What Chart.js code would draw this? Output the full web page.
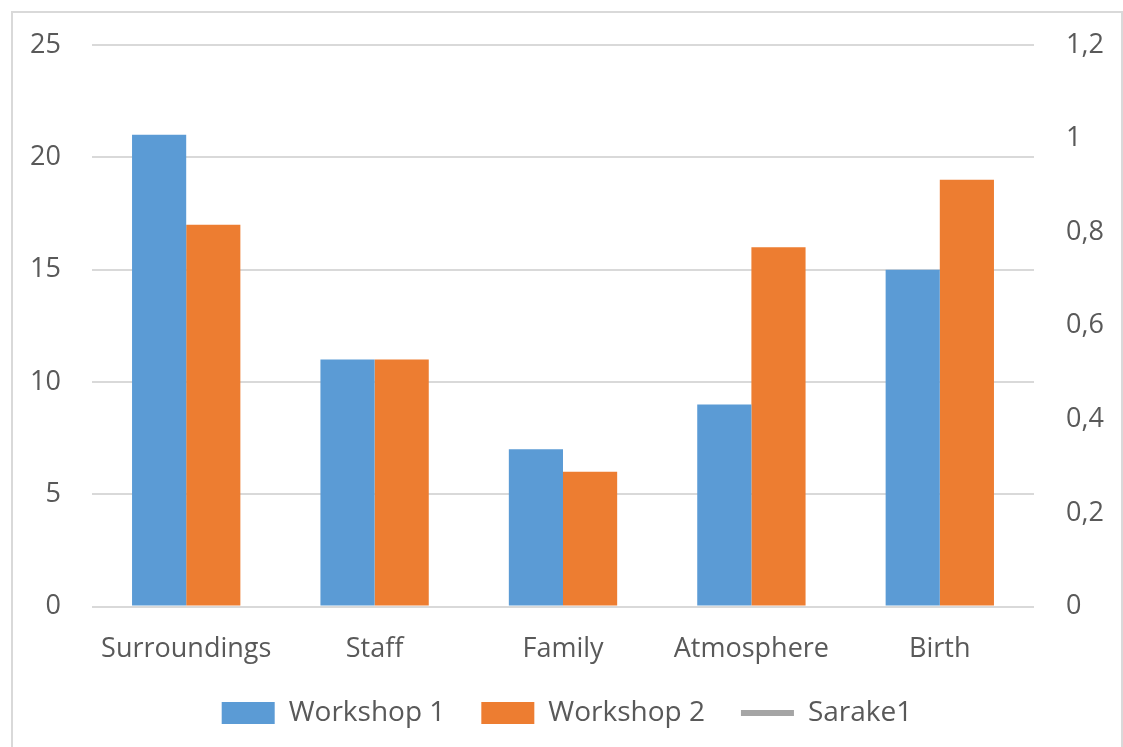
<!DOCTYPE html>
<html>
<head>
<meta charset="utf-8">
<script src="https://cdn.jsdelivr.net/npm/chart.js@4/dist/chart.umd.min.js"></script>
<style>
	html, body { margin: 0; padding: 0; background: #fff; overflow: hidden; }
	#frame { position: absolute; left: 11px; top: 11px; width: 1108px; height: 800px; border: 2px solid #d9d9d9; }
	#wrap { position: absolute; left: 0; top: 0; width: 1123px; height: 747px; }
</style>
</head>
<body>
<div id="frame"></div>
<div id="wrap"><canvas id="chart" width="1123" height="747"></canvas></div>
<script>
const categories = ["Surroundings", "Staff", "Family", "Atmosphere", "Birth"];
const workshop1 = [21, 11, 7, 9, 15];
const workshop2 = [17, 11, 6, 16, 19];
const sarake1 = [null, null, null, null, null];

const leftTicks = [0, 5, 10, 15, 20, 25];
const rightTicks = [0, 0.2, 0.4, 0.6, 0.8, 1, 1.2];

const textColor = "#595959";
const gridColor = "#d9d9d9";
const font = { family: "'Open Sans'", size: 27 };
const legendFont = { family: "'Open Sans'", size: 28 };

// legend keeps its wide item spacing but gives back some height to the plot
const legendShift = 30;

const legendSpacing = {
	id: 'legendSpacing',
	beforeLayout(chart) {
		const legend = chart.legend;
		if (!legend || legend._shrunk) return;
		const fit = legend.fit;
		legend.fit = function () {
			fit.call(this);
			this.height -= legendShift;
		};
		legend._shrunk = true;
	},
	afterLayout(chart) {
		chart.legend.top -= legendShift;
	},
};

// the y axes should not push the plot top down, layout padding sets it
function fixYAxis(width) {
	return (axis) => {
		axis.width = width;
		axis.paddingTop = 0;
	};
}

const config = {
	type: 'bar',
	data: {
		labels: categories,
		datasets: [
			{
				label: 'Workshop 1',
				data: workshop1,
				backgroundColor: '#5b9bd5',
				borderWidth: 0,
				yAxisID: 'y',
				pointStyle: 'rect',
			},
			{
				label: 'Workshop 2',
				data: workshop2,
				backgroundColor: '#ed7d31',
				borderWidth: 0,
				yAxisID: 'y',
				pointStyle: 'rect',
			},
			{
				type: 'line',
				label: 'Sarake1',
				data: sarake1,
				borderColor: '#a5a5a5',
				backgroundColor: '#a5a5a5',
				borderWidth: 6,
				borderCapStyle: 'round',
				pointRadius: 0,
				yAxisID: 'y1',
				pointStyle: 'line',
			},
		],
	},
	options: {
		responsive: false,
		animation: false,
		layout: {
			padding: { left: 30, right: 19, top: 45, bottom: 10 }
		},
		datasets: {
			bar: {
				categoryPercentage: 0.575,
				barPercentage: 1,
			}
		},
		plugins: {
			legend: {
				position: 'bottom',
				labels: {
					usePointStyle: true,
					pointStyleWidth: 53,
					boxHeight: 22,
					padding: 36,
					color: textColor,
					font: legendFont,
				}
			},
			tooltip: { enabled: false },
		},
		scales: {
			x: {
				grid: { display: false, drawTicks: false },
				border: { display: false },
				ticks: { color: textColor, font: font, padding: 27, maxRotation: 0, autoSkip: false },
			},
			y: {
				position: 'left',
				min: 0,
				max: 25,
				afterBuildTicks: (axis) => { axis.ticks = leftTicks.map(v => ({ value: v })); },
				afterFit: fixYAxis(62),
				grid: { color: gridColor, lineWidth: 2, drawTicks: false },
				border: { display: false },
				ticks: { color: textColor, font: font, padding: 31 },
			},
			y1: {
				position: 'right',
				min: 0,
				max: 1.2,
				afterBuildTicks: (axis) => { axis.ticks = rightTicks.map(v => ({ value: v })); },
				afterFit: fixYAxis(70),
				grid: { drawOnChartArea: false, drawTicks: false },
				border: { display: false },
				ticks: {
					color: textColor,
					font: font,
					padding: 32,
					callback: (v) => String(Number(v.toFixed(1))).replace('.', ','),
				},
			},
		},
	},
	plugins: [legendSpacing],
};

const chart = new Chart(document.getElementById("chart"), config);
</script>
</body>
</html>
